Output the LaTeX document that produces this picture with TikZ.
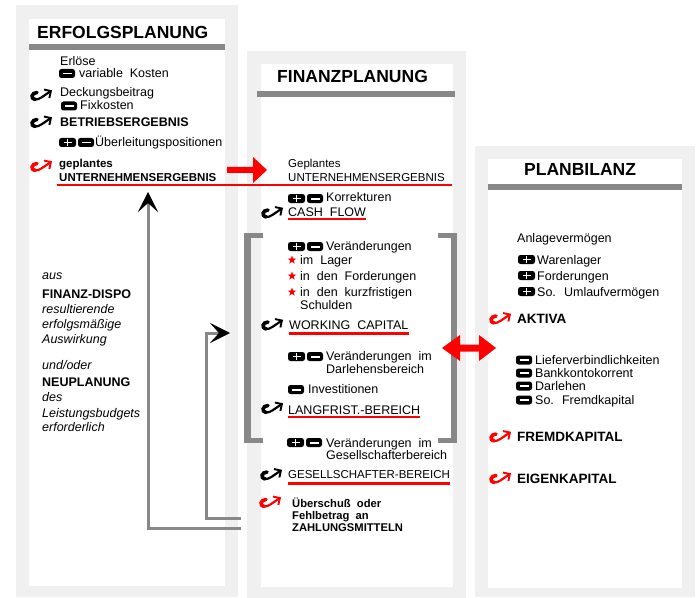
\documentclass[tikz,border=0pt]{standalone}
\usepackage{fontspec}
\setmainfont{Liberation Sans}
\usetikzlibrary{arrows.meta,shapes.geometric}
\definecolor{panel}{HTML}{F0F0F0}
\definecolor{bargray}{HTML}{888888}
\definecolor{hred}{HTML}{FF0000}
\tikzset{
  txt/.style={anchor=base west, inner sep=0pt, font=\fontsize{12.5bp}{13bp}\selectfont},
  txtb/.style={txt, font=\fontsize{12.5bp}{13bp}\selectfont\bfseries},
  txtbl/.style={txt, font=\fontsize{13.5bp}{14bp}\selectfont\bfseries},
  txts/.style={txt, font=\fontsize{11.5bp}{13bp}\selectfont},
  txtsb/.style={txt, font=\fontsize{11.5bp}{13bp}\selectfont\bfseries},
  txtxb/.style={txt, font=\fontsize{11.2bp}{12bp}\selectfont\bfseries},
  txti/.style={txt, font=\fontsize{12.5bp}{13bp}\selectfont\itshape},
  hdr/.style={txt, font=\fontsize{17.5bp}{18bp}\selectfont\bfseries},
  uline/.style={hred, line width=2.5bp},
  conn/.style={bargray, line width=3bp,
    -{Stealth[black,length=20bp,width=20bp,inset=9bp,line width=0.5bp]}},
  rstar/.style={star, star points=5, star point ratio=2.4, fill=hred, draw=none,
    inner sep=0pt, minimum size=9bp},
  hook/.pic={
    \draw[line width=3.6bp, line cap=round] (7,3) .. controls (1.5,3.2) and (0.2,9.2) .. (5,10);
    \draw[line width=2.2bp, line cap=round,
      -{Straight Barb[length=5bp,width=10bp,line width=1.9bp]}]
      (5,10) .. controls (9,10.6) and (14,6) .. (22,0.8);
  },
  minusicon/.pic={
    \fill[rounded corners=2.5bp] (0,0) rectangle (16,9);
    \fill[white] (3.5,3.6) rectangle (12.5,5.5);
  },
  plusicon/.pic={
    \fill[rounded corners=2.5bp] (0,0) rectangle (17,9);
    \fill[white] (4.5,3.7) rectangle (12.5,5.4);
    \fill[white] (7.7,1.4) rectangle (9.3,7.7);
  },
}
\begin{document}
\begin{tikzpicture}[x=1bp,y=-1bp]
\useasboundingbox (0,0) rectangle (696,598);
% panels
\fill[panel] (16,5) rectangle (238,597);
\fill[white] (29,19) rectangle (225,586);
\fill[panel] (247,51) rectangle (466,598);
\fill[white] (261,64) rectangle (453,587);
\fill[panel] (475,146) rectangle (695,597);
\fill[white] (488,159) rectangle (682,588);
% header bars
\fill[bargray] (29,44) rectangle (225,50);
\fill[bargray] (257,91) rectangle (455,97);
\fill[bargray] (488,184.5) rectangle (682,190.5);
% headers
\node[hdr] (h1) at (37,39) {ERFOLGSPLANUNG};
\node[hdr] (h2) at (277,83) {FINANZPLANUNG};
\node[hdr] (h3) at (524,176) {PLANBILANZ};

% ---------- left column
\node[txt] (l1) at (60,66) {Erlöse};
\pic (li1) at (59,69) {minusicon};
\node[txt] (l2) at (79,78) {variable~ Kosten};
\pic (lh1) at (30,89.5) {hook};
\node[txt] (l3) at (60,96.5) {Deckungsbeitrag};
\pic (li2) at (61,101.5) {minusicon};
\node[txt] (l4) at (80,110) {Fixkosten};
\pic (lh2) at (30,116.5) {hook};
\node[txtb] (l5) at (60,127) {BETRIEBSERGEBNIS};
\pic (li3) at (59,138) {plusicon};
\pic (li4) at (78,138) {minusicon};
\node[txt] (l6) at (95,147) {Überleitungspositionen};
\pic[hred] (lh3) at (30,160.5) {hook};
\node[txtsb] (l7) at (59,168) {geplantes};
\node[txtsb] (l8) at (59,182) {UNTERNEHMENSERGEBNIS};

\node[txti] (a1) at (42,279) {aus};
\node[txtb] (a2) at (42,298) {FINANZ-DISPO};
\node[txti] (a3) at (42,313) {resultierende};
\node[txti] (a4) at (42,328) {erfolgsmäßige};
\node[txti] (a5) at (42,343) {Auswirkung};
\node[txti] (a6) at (42,369) {und/oder};
\node[txtb] (a7) at (42,386) {NEUPLANUNG};
\node[txti] (a8) at (42,401) {des};
\node[txti] (a9) at (42,417) {Leistungsbudgets};
\node[txti] (a10) at (42,431) {erforderlich};

% ---------- middle column
\node[txts] (m1) at (288,168) {Geplantes};
\node[txts] (m2) at (288,182) {UNTERNEHMENSERGEBNIS};
\draw[uline] (57,185) -- (452,185);
\fill[hred] (227,167) -- (253,167) -- (253,157) -- (267,170) -- (253,183) -- (253,173) -- (227,173) -- cycle;

\pic (mi1) at (288,194) {plusicon};
\pic (mi2) at (307,194) {minusicon};
\node[txt] (m3) at (326,202) {Korrekturen};
\pic (mh1) at (261,207) {hook};
\node[txt] (cf) at (288,216) {CASH~ FLOW};
\draw[uline] (cf.base west |- 0,218.8) -- (cf.base east |- 0,218.8);

% bracket
\fill[bargray] (244,233) rectangle (250.5,443);
\fill[bargray] (244,233) rectangle (263,238);
\fill[bargray] (244,437.5) rectangle (263,443);
\fill[bargray] (450.5,233) rectangle (457,443);
\fill[bargray] (438,233) rectangle (457,238);
\fill[bargray] (438,437.5) rectangle (457,443);

\pic (mi3) at (288,242) {plusicon};
\pic (mi4) at (307,242) {minusicon};
\node[txt] (m4) at (326,250) {Veränderungen};
\node[rstar] (s1) at (292,260) {};
\node[txt] (m5) at (300,264) {im~ Lager};
\node[rstar] (s2) at (292,276) {};
\node[txt] (m6) at (300,280) {in~ den~ Forderungen};
\node[rstar] (s3) at (292,292) {};
\node[txt] (m7) at (300,296) {in~ den~ kurzfristigen};
\node[txt] (m8) at (300,309) {Schulden};
\pic (mh2) at (261,319) {hook};
\node[txt] (wc) at (289,329) {WORKING~ CAPITAL};
\draw[uline] (wc.base west |- 0,333.5) -- (wc.base east |- 0,333.5);

\pic (mi5) at (288,352) {plusicon};
\pic (mi6) at (307,352) {minusicon};
\node[txt] (m9) at (326,360) {Veränderungen~ im};
\node[txt] (m10) at (326,373) {Darlehensbereich};
\pic (mi7) at (288,385) {minusicon};
\node[txt] (m11) at (308,393) {Investitionen};
\pic (mh3) at (261,402.5) {hook};
\node[txt] (lf) at (288,414) {LANGFRIST.-BEREICH};
\draw[uline] (lf.base west |- 0,416.8) -- (lf.base east |- 0,416.8);

\pic (mi8) at (287,438) {plusicon};
\pic (mi9) at (306,438) {minusicon};
\node[txt] (m12) at (326,447) {Veränderungen~ im};
\node[txt] (m13) at (326,459) {Gesellschafterbereich};
\pic (mh4) at (260,469) {hook};
\node[txts] (gb) at (288,478) {GESELLSCHAFTER-BEREICH};
\draw[uline] (gb.base west |- 0,483.5) -- (gb.base east |- 0,483.5);
\pic[hred] (mh5) at (259,496.5) {hook};
\node[txtxb] (m14) at (292,507) {Überschuß~ oder};
\node[txtxb] (m15) at (292,519) {Fehlbetrag~ an};
\node[txtxb] (m16) at (292,531) {ZAHLUNGSMITTELN};

% ---------- right column
\node[txt] (r1) at (517,242) {Anlagevermögen};
\pic (ri1) at (518,255) {plusicon};
\node[txt] (r2) at (537,264) {Warenlager};
\pic (ri2) at (518,271) {plusicon};
\node[txt] (r3) at (537,280) {Forderungen};
\pic (ri3) at (518,287) {plusicon};
\node[txt] (r4) at (537,296) {So.~ Umlaufvermögen};
\pic[hred] (rh1) at (489,313) {hook};
\node[txtbl] (r5) at (517,323) {AKTIVA};
\pic (ri4) at (516,355.5) {minusicon};
\node[txt] (r6) at (535,364) {Lieferverbindlichkeiten};
\pic (ri5) at (516,368.5) {minusicon};
\node[txt] (r7) at (535,377) {Bankkontokorrent};
\pic (ri6) at (516,381.5) {minusicon};
\node[txt] (r8) at (535,390) {Darlehen};
\pic (ri7) at (516,395.5) {minusicon};
\node[txt] (r9) at (535,404) {So.~ Fremdkapital};
\pic[hred] (rh2) at (489,431) {hook};
\node[txtbl] (r10) at (517,441) {FREMDKAPITAL};
\pic[hred] (rh3) at (489,472.5) {hook};
\node[txtbl] (r11) at (517,483) {EIGENKAPITAL};

% double arrow
\fill[hred] (442,348) -- (460,335) -- (460,344.5) -- (479,344.5) -- (479,335) -- (496,348)
  -- (479,361) -- (479,351.5) -- (460,351.5) -- (460,361) -- cycle;

% gray feedback connectors
\coordinate (fbA) at (241,518);
\coordinate (fbB) at (241,528);
\coordinate (wcTurn) at (206,333);
\coordinate (wcIn) at (230,333);
\coordinate (ueIn) at (148,192);
\draw[conn] (fbA) -| (wcTurn) -- (wcIn);
\draw[conn] (fbB) -| (ueIn);
\end{tikzpicture}
\end{document}
